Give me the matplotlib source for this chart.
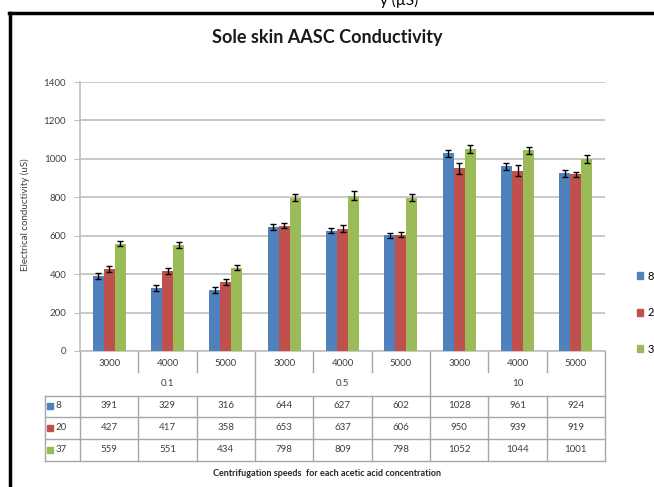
import numpy as np
import matplotlib.pyplot as plt
from matplotlib.lines import Line2D
from matplotlib.patches import Patch
import matplotlib.transforms as mtransforms

plt.rcParams['font.family'] = ['Lato', 'DejaVu Sans']

speeds = ['3000', '4000', '5000', '3000', '4000', '5000', '3000', '4000', '5000']
concentrations = ['0.1', '0.5', '10']
series_names = ['8', '20', '37']
vals_8 = [391, 329, 316, 644, 627, 602, 1028, 961, 924]
vals_20 = [427, 417, 358, 653, 637, 606, 950, 939, 919]
vals_37 = [559, 551, 434, 798, 809, 798, 1052, 1044, 1001]
err_8 = [15, 16, 15, 15, 15, 14, 20, 18, 17]
err_20 = [15, 15, 15, 12, 17, 14, 30, 30, 12]
err_37 = [15, 15, 14, 18, 22, 17, 20, 17, 20]
colors = ['#4F81BD', '#C0504D', '#9BBB59']

W, H = 654, 487
fig = plt.figure(figsize=(W / 100, H / 100), dpi=100)

# plot area in pixels
px_l, px_r, px_t, px_b = 80, 605, 82, 351
ax = fig.add_axes([px_l / W, 1 - px_b / H, (px_r - px_l) / W, (px_b - px_t) / H])

x = np.arange(len(speeds))
bw = 0.19
for i, (v, e) in enumerate(zip([vals_8, vals_20, vals_37], [err_8, err_20, err_37])):
    ax.bar(x + (i - 1) * bw, v, bw, color=colors[i], yerr=e, zorder=3,
           error_kw=dict(ecolor='black', elinewidth=1, capsize=2, capthick=1))

ax.set_xlim(-0.5, len(speeds) - 0.5)
ax.set_ylim(0, 1400)
ax.set_yticks(np.arange(0, 1401, 200))
ax.yaxis.grid(True, color='#BFBFBF', linewidth=1.2, zorder=0)
ax.set_axisbelow(True)
ax.set_xticks([])
ax.tick_params(axis='y', length=4, color='#BFBFBF', labelsize=7, labelcolor='#404040', pad=6)
for s in ['top', 'right']:
    ax.spines[s].set_visible(False)
for s in ['left', 'bottom']:
    ax.spines[s].set_color('#BFBFBF')
    ax.spines[s].set_linewidth(1.2)

fig.text(25 / W, 1 - 215 / H, 'Electrical conductivity (uS)', rotation=90,
         ha='center', va='center', fontsize=7, color='#404040')
fig.text(0.5, 1 - 38 / H, 'Sole skin AASC Conductivity', ha='center', va='center',
         fontsize=13, fontweight='bold', color='#1a1a1a')
# caption fragment cut by the top edge, as in the reference
fig.text(0.61, 1.0, 'y (µS)', ha='center', va='center', fontsize=11, color='black')

# data table below the axis
trans = mtransforms.blended_transform_factory(ax.transData, fig.transFigure)
def fy(py):
    return 1 - py / H

lc = '#A6A6A6'
lw = 1.0
tbl_left = -0.5 - (px_l - 45) / ((px_r - px_l) / len(speeds))
row_lines = [396, 417, 439, 461]
for ry in row_lines:
    ax.add_line(Line2D([tbl_left, len(speeds) - 0.5], [fy(ry), fy(ry)], transform=trans,
                       color=lc, lw=lw, clip_on=False))
# column borders
for k in range(len(speeds) + 1):
    xb = k - 0.5
    if k % 3 == 0:
        ax.add_line(Line2D([xb, xb], [fy(px_b), fy(461)], transform=trans,
                           color=lc, lw=lw, clip_on=False))
    else:
        ax.add_line(Line2D([xb, xb], [fy(px_b), fy(372)], transform=trans,
                           color=lc, lw=lw, clip_on=False))
        ax.add_line(Line2D([xb, xb], [fy(396), fy(461)], transform=trans,
                           color=lc, lw=lw, clip_on=False))
ax.add_line(Line2D([tbl_left, tbl_left], [fy(396), fy(461)], transform=trans,
                   color=lc, lw=lw, clip_on=False))

tc = '#404040'
for k, s in enumerate(speeds):
    ax.text(k, fy(363), s, transform=trans, ha='center', va='center', fontsize=7, color=tc)
for g, c in enumerate(concentrations):
    ax.text(g * 3 + 1, fy(384), c, transform=trans, ha='center', va='center', fontsize=7, color=tc)
row_y = [406, 428, 450]
for r, vals in enumerate([vals_8, vals_20, vals_37]):
    for k, v in enumerate(vals):
        ax.text(k, fy(row_y[r]), str(v), transform=trans, ha='center', va='center',
                fontsize=7, color=tc)
    fig.patches.append(plt.Rectangle((47 / W, fy(row_y[r]) - 3 / H), 6 / W, 6 / H,
                                     color=colors[r], transform=fig.transFigure))
    fig.text(56 / W, fy(row_y[r]), series_names[r], ha='left', va='center',
             fontsize=7, color=tc)

fig.text(0.5, fy(473), 'Centrifugation speeds  for each acetic acid concentration',
         ha='center', va='center', fontsize=6.5, fontweight='bold', color='#262626')

# legend, partly cut off by the right edge like the reference
handles = [Patch(color=c) for c in colors]
fig.legend(handles, series_names, loc='upper left', bbox_to_anchor=(631 / W, fy(265)),
           frameon=False, fontsize=8, handlelength=0.6, handleheight=0.6,
           handletextpad=0.4, labelspacing=2.3, borderpad=0)

# black frame of the figure box
fig.add_artist(Line2D([9 / W, 1.0], [fy(13), fy(13)], color='black', lw=2.5))
fig.add_artist(Line2D([10 / W, 10 / W], [fy(13), 0], color='black', lw=2.5))

fig.savefig('out.png', dpi=100)
